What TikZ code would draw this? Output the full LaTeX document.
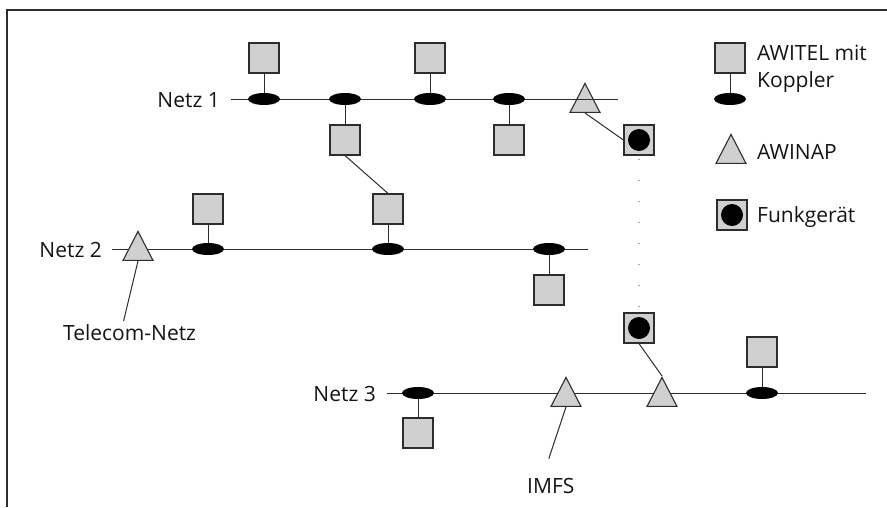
\documentclass[tikz,border=0pt]{standalone}
\usepackage{fontspec}
\setmainfont{Open Sans}
\usetikzlibrary{shapes.geometric,calc}
\definecolor{boxgray}{RGB}{208,208,208}
\definecolor{ink}{RGB}{45,45,45}
\pgfdeclarelayer{background}
\pgfsetlayers{background,main}
\begin{document}
\begin{tikzpicture}[x=1pt,y=-1pt,
  sq/.style={rectangle,draw=ink,fill=boxgray,line width=1.1pt,minimum size=30pt,inner sep=0pt},
  kop/.style={ellipse,fill=black,minimum width=32pt,minimum height=12pt,inner sep=0pt},
  tri/.style={isosceles triangle,isosceles triangle stretches,shape border rotate=90,
    minimum width=30pt,minimum height=29pt,inner sep=0pt,draw=ink,fill=boxgray,line width=1.1pt,anchor=apex},
  blk/.style={circle,fill=black,minimum size=22pt,inner sep=0pt},
  wire/.style={draw=ink,line width=1pt},
  lbl/.style={font=\fontsize{21}{26}\selectfont,inner sep=0pt,text=black!92}]
\useasboundingbox (0,0) rectangle (887,507);
% frame
\draw[ink,line width=1.2pt] (7,507) -- (7,10) -- (887,10);

% labels
\node[lbl,anchor=base east] (L1) at (220,107) {Netz 1};
\node[lbl,anchor=base east] (L2) at (102,257) {Netz 2};
\node[lbl,anchor=base east] (L3) at (376,401) {Netz 3};
\node[lbl,anchor=base west] (TN) at (63,340) {Telecom-Netz};
\node[lbl,anchor=base west] (IM) at (527,493) {IMFS};

\coordinate (n1s) at (231,99);  \coordinate (n1e) at (618,99);
\coordinate (n2s) at (112,249); \coordinate (n2e) at (588,249);
\coordinate (n3s) at (387,393); \coordinate (n3e) at (866,393);

% Netz 1
\node[kop] (k11) at (264,99) {};  \node[sq] (s11) at (264,58) {};
\node[kop] (k12) at (345,99) {};  \node[sq] (s12) at (345,140) {};
\node[kop] (k13) at (430,99) {};  \node[sq] (s13) at (430,58) {};
\node[kop] (k14) at (509,99) {};  \node[sq] (s14) at (509,140) {};
\node[sq] (f1) at (639,140) {};   \node[blk] (f1d) at (639,140) {};

% Netz 2
\node[tri] (t2) at (138,230) {};
\node[kop] (k21) at (208,249) {}; \node[sq] (s21) at (208,209) {};
\node[kop] (k22) at (388,249) {}; \node[sq] (s22) at (388,209) {};
\node[kop] (k23) at (549,249) {}; \node[sq] (s23) at (549,290) {};

% Netz 3
\node[kop] (k31) at (418,393) {}; \node[sq] (s31) at (418,433) {};
\node[tri] (t31) at (566,376) {};
\node[tri] (t32) at (662,376) {};
\node[sq] (f2) at (639,328) {};   \node[blk] (f2d) at (639,328) {};
\node[kop] (k32) at (762,393) {}; \node[sq] (s32) at (762,352) {};

% legend
\node[sq] (sL) at (730,58) {};
\node[kop] (kL) at (730,99) {};
\node[lbl,anchor=base west] (LA1) at (757,60) {AWITEL mit};
\node[lbl,anchor=base west] (LA2) at (757,87) {Koppler};
\node[tri] (tL) at (731,133) {};
\node[lbl,anchor=base west] (LB) at (757,159) {AWINAP};
\node[sq] (fL) at (732,215) {};   \node[blk] (fLd) at (732,215) {};
\node[lbl,anchor=base west] (LC) at (757,222) {Funkgerät};

\begin{pgfonlayer}{background}
  \node[tri] (t1) at (585,82) {};
  \draw[wire] (n1s) -- (n1e);
  \draw[wire] (n2s) -- (n2e);
  \draw[wire] (n3s) -- (n3e);
  \draw[wire] (s11) -- (k11);
  \draw[wire] (s12) -- (k12);
  \draw[wire] (s13) -- (k13);
  \draw[wire] (s14) -- (k14);
  \draw[wire] (s21) -- (k21);
  \draw[wire] (s22) -- (k22);
  \draw[wire] (s23) -- (k23);
  \draw[wire] (s31) -- (k31);
  \draw[wire] (s32) -- (k32);
  \draw[wire] (sL) -- (kL);
\end{pgfonlayer}

\draw[wire] ($(t1.left corner)!0.5!(t1.right corner)$) -- (f1.west);
\draw[wire] (s12.south) -- (s22.north);
\draw[wire] ($(t2.left corner)!0.5!(t2.right corner)$) -- ([xshift=-6pt,yshift=3pt]TN.north);
\draw[wire] ($(t31.left corner)!0.5!(t31.right corner)$) -- ([xshift=-2pt,yshift=19pt]IM.north);
\draw[wire] (f2.south) -- (t32.apex);
\draw[ink!80,line width=1.3pt,line cap=round,dash pattern=on 0pt off 21pt,dash phase=17pt] (f1.south) -- (f2.north);
\end{tikzpicture}
\end{document}
